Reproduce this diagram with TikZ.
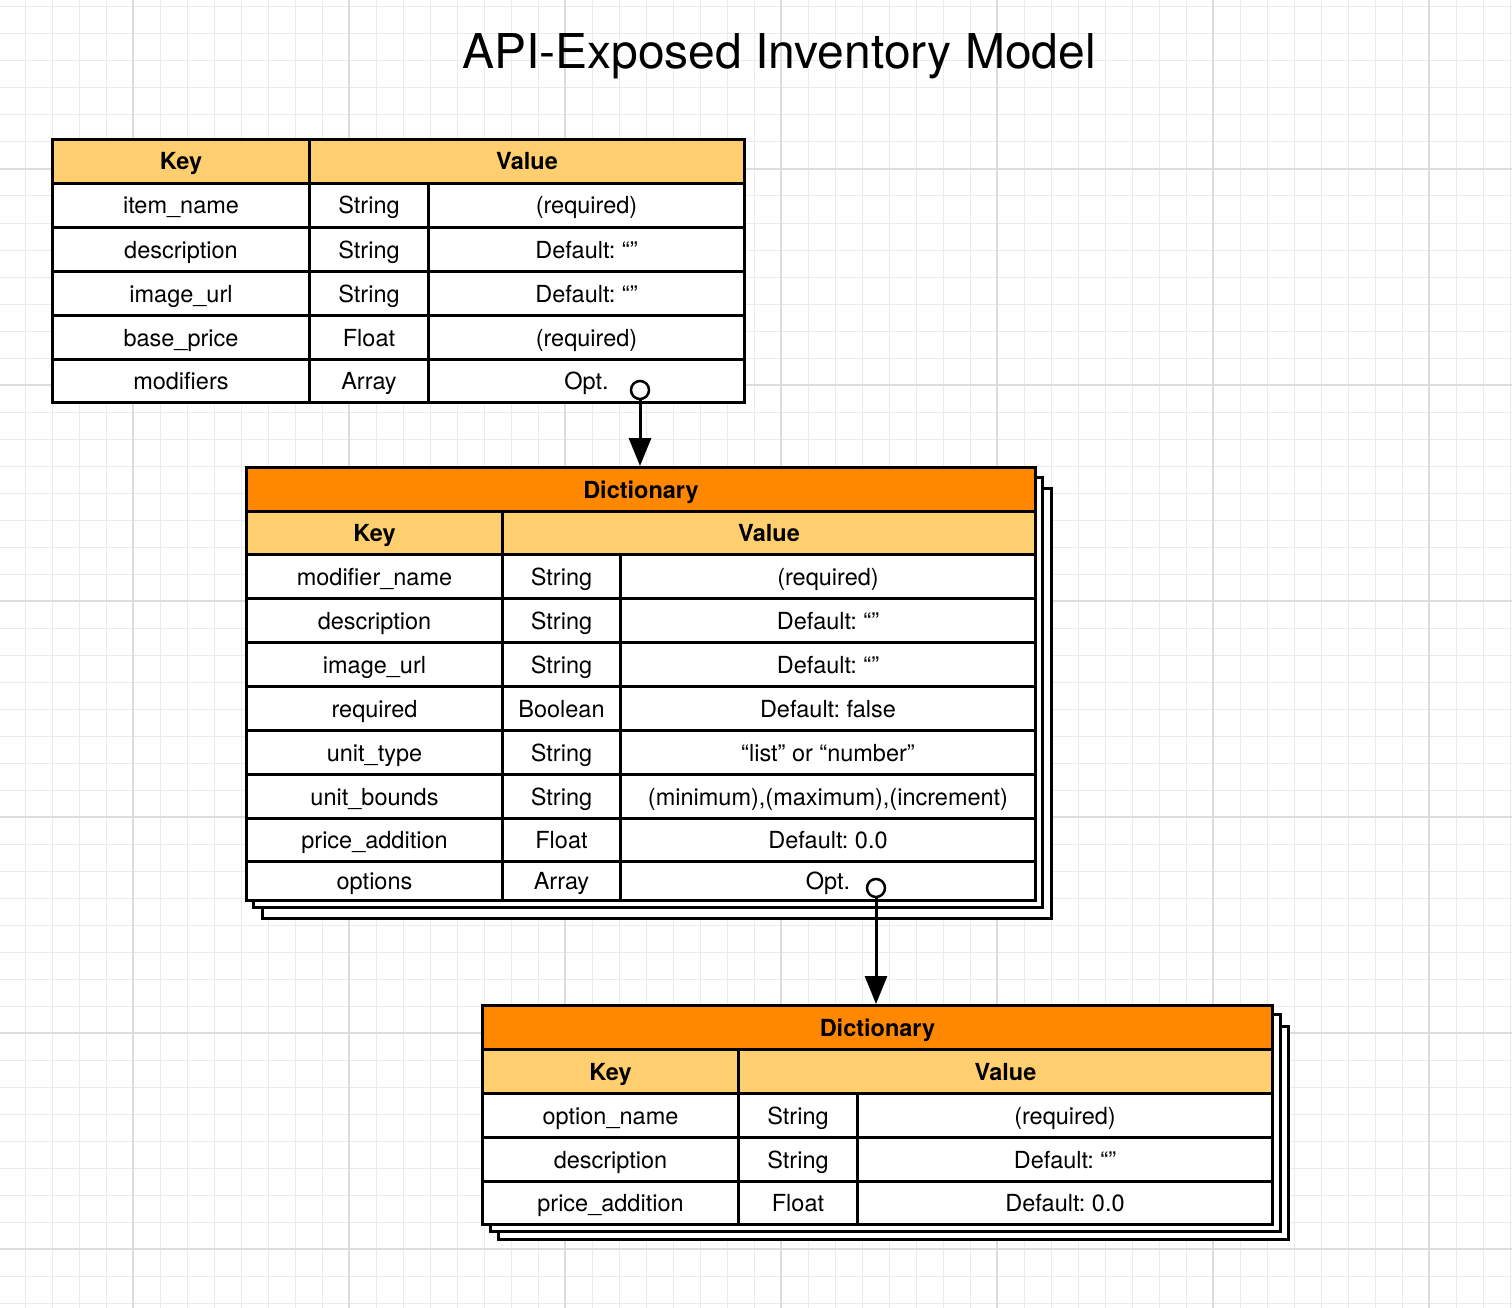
\documentclass[tikz,border=0pt]{standalone}
\usepackage{fontspec}
\setmainfont{TeX Gyre Heros}
\usetikzlibrary{arrows.meta}
\frenchspacing
\definecolor{hdr}{HTML}{FFCE6E}
\definecolor{dict}{HTML}{FF8800}
\definecolor{gmin}{HTML}{EBEBEB}
\definecolor{gmaj}{HTML}{DCDCDC}
\tikzset{
  cellbox/.style={draw=black, line width=3pt, fill=white, anchor=north west, inner sep=0pt,
    text height=17pt, text depth=0pt, font=\fontsize{23.5}{28}\selectfont, text=black},
  keyhdr/.style={cellbox, fill=hdr, font=\fontsize{23.5}{28}\selectfont\bfseries},
  dicthdr/.style={cellbox, fill=dict, font=\fontsize{23.5}{28}\selectfont\bfseries},
  shadowbox/.style={draw=black, line width=3pt, fill=white},
  optdot/.style={circle, draw=black, line width=2.5pt, fill=white, minimum size=18pt, inner sep=0pt},
  link/.style={line width=3pt, -{Triangle[length=28pt,width=22pt]}},
  gridmin/.style={gmin, line width=1pt},
  gridmaj/.style={gmaj, line width=1.2pt}
}
\newcommand\tcell[7]{\node[#6, minimum width=#4pt, minimum height=#5pt] (#1) at (#2,#3) {#7};}
\begin{document}
\begin{tikzpicture}[x=1pt,y=-1pt]
\useasboundingbox (0,0) rectangle (1512,1308);
\fill[white] (0,0) rectangle (1512,1308);
% grid
\foreach \xx in {25,52,...,1512} \draw[gridmin] (\xx,0) -- (\xx,1308);
\foreach \yy in {7,34,...,1308} \draw[gridmin] (0,\yy) -- (1512,\yy);
\foreach \xx in {133,349,...,1512} \draw[gridmaj] (\xx,0) -- (\xx,1308);
\foreach \yy in {169,385,...,1308} \draw[gridmaj] (0,\yy) -- (1512,\yy);

% title
\node[anchor=base, font=\fontsize{48}{56}\selectfont] (title) at (779,69) {API-Exposed Inventory Model};

% ---------- Table 1 ----------
\tcell{t1k}{51}{138}{257}{44}{keyhdr}{Key}
\tcell{t1v}{308}{138}{435}{44}{keyhdr}{Value}
\tcell{t1a1}{51}{182}{257}{44}{cellbox}{item\_name}
\tcell{t1a2}{308}{182}{119}{44}{cellbox}{String}
\tcell{t1a3}{427}{182}{316}{44}{cellbox}{(required)}
\tcell{t1b1}{51}{226}{257}{44}{cellbox}{description}
\tcell{t1b2}{308}{226}{119}{44}{cellbox}{String}
\tcell{t1b3}{427}{226}{316}{44}{cellbox}{Default: “”}
\tcell{t1c1}{51}{270}{257}{44}{cellbox}{image\_url}
\tcell{t1c2}{308}{270}{119}{44}{cellbox}{String}
\tcell{t1c3}{427}{270}{316}{44}{cellbox}{Default: “”}
\tcell{t1d1}{51}{314}{257}{44}{cellbox}{base\_price}
\tcell{t1d2}{308}{314}{119}{44}{cellbox}{Float}
\tcell{t1d3}{427}{314}{316}{44}{cellbox}{(required)}
\tcell{t1e1}{51}{358}{257}{43}{cellbox}{modifiers}
\tcell{t1e2}{308}{358}{119}{43}{cellbox}{Array}
\tcell{t1e3}{427}{358}{316}{43}{cellbox}{Opt.}

% ---------- Table 2 ----------
\draw[shadowbox] (262,488) rectangle (1051,918);
\draw[shadowbox] (253,477) rectangle (1042,907);
\tcell{d1}{245}{466}{789}{44}{dicthdr}{Dictionary}
\tcell{t2k}{245}{510}{256}{43}{keyhdr}{Key}
\tcell{t2v}{501}{510}{533}{43}{keyhdr}{Value}
\tcell{t2a1}{245}{553}{256}{44}{cellbox}{modifier\_name}
\tcell{t2a2}{501}{553}{118}{44}{cellbox}{String}
\tcell{t2a3}{619}{553}{415}{44}{cellbox}{(required)}
\tcell{t2b1}{245}{597}{256}{44}{cellbox}{description}
\tcell{t2b2}{501}{597}{118}{44}{cellbox}{String}
\tcell{t2b3}{619}{597}{415}{44}{cellbox}{Default: “”}
\tcell{t2c1}{245}{641}{256}{44}{cellbox}{image\_url}
\tcell{t2c2}{501}{641}{118}{44}{cellbox}{String}
\tcell{t2c3}{619}{641}{415}{44}{cellbox}{Default: “”}
\tcell{t2d1}{245}{685}{256}{44}{cellbox}{required}
\tcell{t2d2}{501}{685}{118}{44}{cellbox}{Boolean}
\tcell{t2d3}{619}{685}{415}{44}{cellbox}{Default: false}
\tcell{t2e1}{245}{729}{256}{44}{cellbox}{unit\_type}
\tcell{t2e2}{501}{729}{118}{44}{cellbox}{String}
\tcell{t2e3}{619}{729}{415}{44}{cellbox}{“list” or “number”}
\tcell{t2f1}{245}{773}{256}{44}{cellbox}{unit\_bounds}
\tcell{t2f2}{501}{773}{118}{44}{cellbox}{String}
\tcell{t2f3}{619}{773}{415}{44}{cellbox}{(minimum),(maximum),(increment)}
\tcell{t2g1}{245}{817}{256}{43}{cellbox}{price\_addition}
\tcell{t2g2}{501}{817}{118}{43}{cellbox}{Float}
\tcell{t2g3}{619}{817}{415}{43}{cellbox}{Default: 0.0}
\tcell{t2h1}{245}{860}{256}{39}{cellbox}{options}
\tcell{t2h2}{501}{860}{118}{39}{cellbox}{Array}
\tcell{t2h3}{619}{860}{415}{39}{cellbox}{Opt.}

% ---------- Table 3 ----------
\draw[shadowbox] (498,1026) rectangle (1288,1239);
\draw[shadowbox] (490,1014) rectangle (1280,1231);
\tcell{d2}{481}{1004}{790}{44}{dicthdr}{Dictionary}
\tcell{t3k}{481}{1048}{256}{44}{keyhdr}{Key}
\tcell{t3v}{737}{1048}{534}{44}{keyhdr}{Value}
\tcell{t3a1}{481}{1092}{256}{44}{cellbox}{option\_name}
\tcell{t3a2}{737}{1092}{119}{44}{cellbox}{String}
\tcell{t3a3}{856}{1092}{415}{44}{cellbox}{(required)}
\tcell{t3b1}{481}{1136}{256}{44}{cellbox}{description}
\tcell{t3b2}{737}{1136}{119}{44}{cellbox}{String}
\tcell{t3b3}{856}{1136}{415}{44}{cellbox}{Default: “”}
\tcell{t3c1}{481}{1180}{256}{43}{cellbox}{price\_addition}
\tcell{t3c2}{737}{1180}{119}{43}{cellbox}{Float}
\tcell{t3c3}{856}{1180}{415}{43}{cellbox}{Default: 0.0}

% ---------- connectors ----------
\node[optdot] (o1) at (640,390) {};
\node[optdot] (o2) at (876,888) {};
\draw[link] (o1.south) -- (o1.south |- d1.north);
\draw[link] (o2.south) -- (o2.south |- d2.north);
\end{tikzpicture}
\end{document}
